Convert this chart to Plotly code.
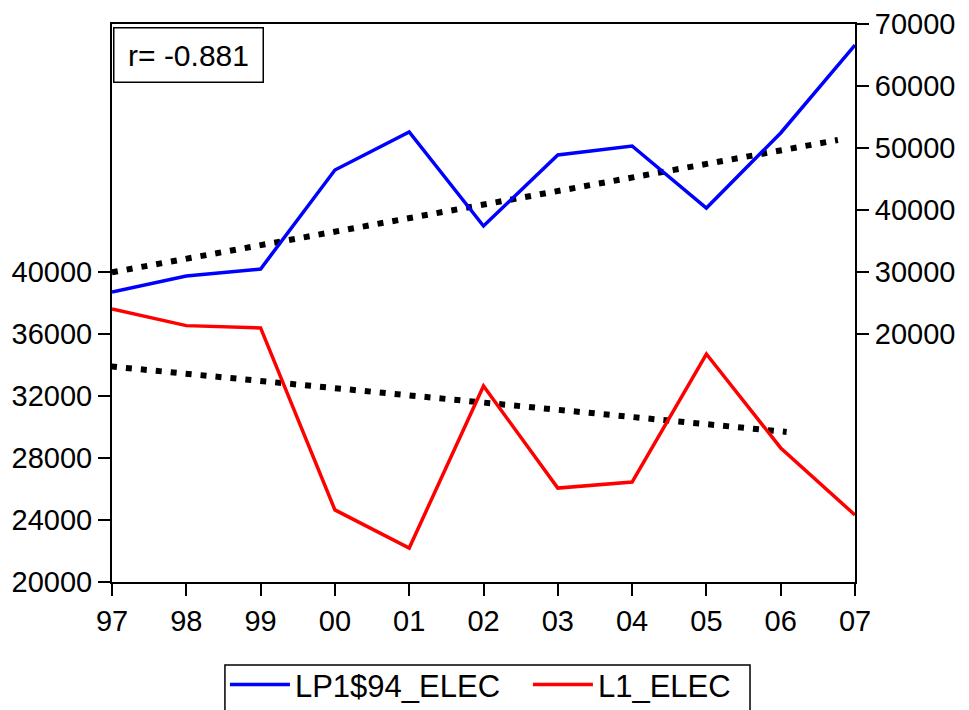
import plotly.graph_objects as go

# Annual observations, 1997-2007
years = [1997, 1998, 1999, 2000, 2001, 2002, 2003, 2004, 2005, 2006, 2007]
year_labels = ["97", "98", "99", "00", "01", "02", "03", "04", "05", "06", "07"]

# LP1$94_ELEC (right axis) and L1_ELEC (left axis)
lp1_94_elec = [26770, 29350, 30480, 46450, 52580, 37420, 48870, 50320, 40320, 52420, 66610]
l1_elec = [37610, 36540, 36390, 24650, 22190, 32650, 26060, 26450, 34710, 28650, 24320]

# Dotted trend lines (start / end)
trend_lp_x = [1996.8, 2006.77]
trend_lp_y = [29520, 51290]
trend_l1_x = [1996.785, 2006.08]
trend_l1_y = [34000, 29680]

r_value = -0.881

left_ticks = [20000, 24000, 28000, 32000, 36000, 40000]
right_ticks = [20000, 30000, 40000, 50000, 60000, 70000]

FONT = "Liberation Sans, Arial, sans-serif"

fig = go.Figure()

fig.add_trace(go.Scatter(
    x=trend_lp_x, y=trend_lp_y, yaxis="y2", mode="lines",
    line=dict(color="black", width=6, dash="6px,9px"),
    showlegend=False, hoverinfo="skip"))
fig.add_trace(go.Scatter(
    x=trend_l1_x, y=trend_l1_y, yaxis="y", mode="lines",
    line=dict(color="black", width=6, dash="6px,9px"),
    showlegend=False, hoverinfo="skip"))

fig.add_trace(go.Scatter(
    x=years, y=lp1_94_elec, yaxis="y2", mode="lines", name="LP1$94_ELEC",
    line=dict(color="#0000ff", width=3.5)))
fig.add_trace(go.Scatter(
    x=years, y=l1_elec, yaxis="y", mode="lines", name="L1_ELEC",
    line=dict(color="#ff0000", width=3.5)))

fig.add_annotation(
    xref="paper", yref="paper", x=0.0015, y=0.9946,
    xanchor="left", yanchor="top",
    text="r= " + f"{r_value:.3f}", showarrow=False,
    font=dict(family=FONT, size=30, color="black"),
    bordercolor="black", borderwidth=1.5, borderpad=0,
    bgcolor="white", width=148, height=53)

# Frame around the legend entries (runs off the bottom edge)
fig.add_shape(
    type="rect", xref="paper", yref="paper",
    x0=0.152, x1=0.8587, y0=-0.1487, y1=-0.26,
    line=dict(color="black", width=1.5), fillcolor="rgba(0,0,0,0)")

fig.update_layout(
    width=969, height=710,
    margin=dict(l=112, r=114, t=24, b=128, autoexpand=False),
    paper_bgcolor="white", plot_bgcolor="white",
    font=dict(family=FONT, size=29, color="black"),
    xaxis=dict(
        range=[1997, 2007], tickvals=years, ticktext=year_labels,
        showgrid=False, zeroline=False,
        showline=True, linecolor="black", linewidth=2, mirror=True,
        ticks="outside", ticklen=12, tickwidth=1.5, tickcolor="black",
        tickfont=dict(size=29)),
    yaxis=dict(
        range=[20000, 56000], tickvals=left_ticks, tickformat="d",
        showgrid=False, zeroline=False,
        showline=True, linecolor="black", linewidth=2,
        ticks="outside", ticklen=12, tickwidth=1.5, tickcolor="black",
        tickfont=dict(size=29)),
    yaxis2=dict(
        range=[-20000, 70000], tickvals=right_ticks, tickformat="d",
        overlaying="y", side="right",
        showgrid=False, zeroline=False,
        showline=True, linecolor="black", linewidth=2,
        ticks="outside", ticklen=12, tickwidth=1.5, tickcolor="black",
        tickfont=dict(size=29)),
    legend=dict(
        orientation="h", x=0.152, xanchor="left", y=-0.136, yanchor="top",
        borderwidth=0, bgcolor="rgba(0,0,0,0)",
        font=dict(family=FONT, size=31), itemwidth=60,
        entrywidth=228, entrywidthmode="pixels"),
    showlegend=True,
)

fig.write_html("out.html")
